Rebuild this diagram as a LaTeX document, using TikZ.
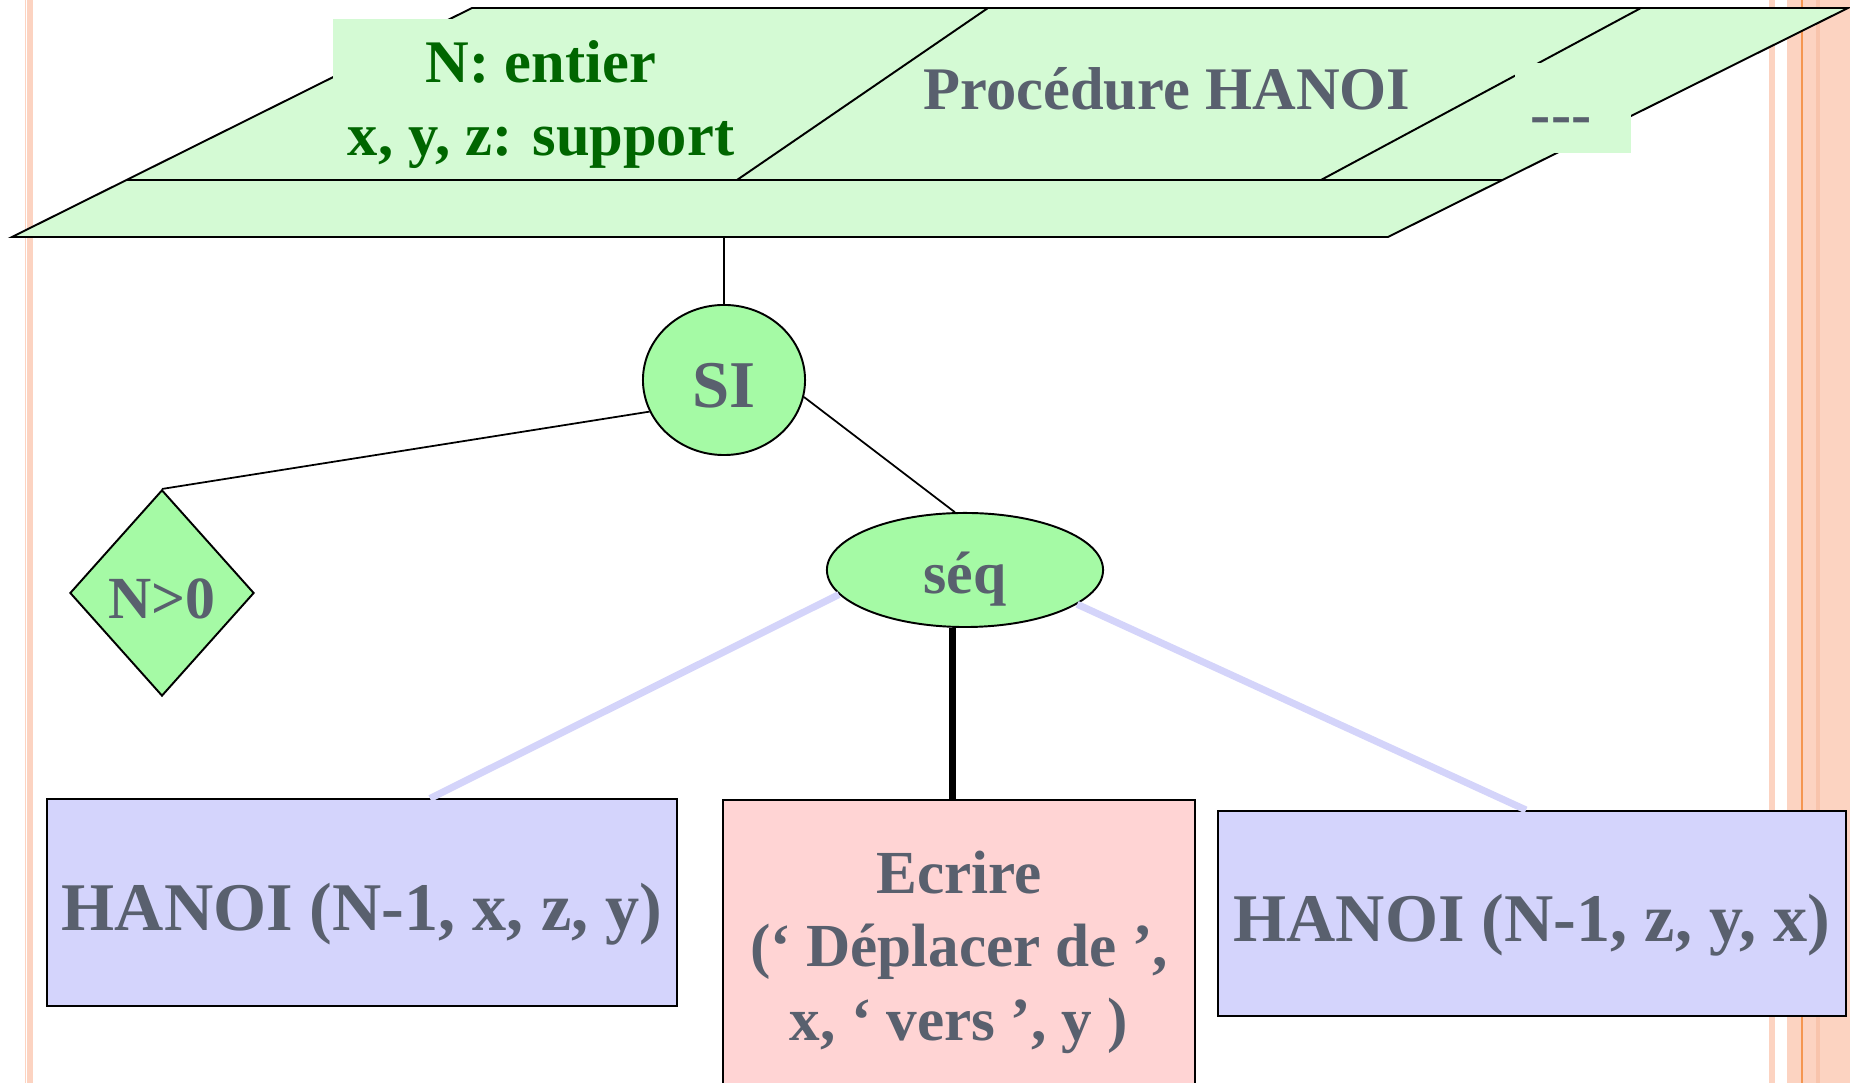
\documentclass[tikz,border=0pt]{standalone}
\usepackage{fontspec}
\setmainfont{Liberation Serif}
\usetikzlibrary{shapes.geometric,calc}
\definecolor{hnPale} {RGB}{212,250,212}
\definecolor{hnMint} {RGB}{165,250,165}
\definecolor{hnLilac}{RGB}{212,212,252}
\definecolor{hnWire} {RGB}{212,212,250}
\definecolor{hnRose} {RGB}{255,212,212}
\definecolor{hnSlate}{RGB}{ 89, 96,110}
\definecolor{hnForest}{RGB}{ 0,102,  0}
\definecolor{hnRim}  {RGB}{252,211,193}
\definecolor{hnRimD} {RGB}{248,196,172}
\definecolor{hnRimO} {RGB}{245,150, 80}

\begin{document}
\begin{tikzpicture}[x=0.01cm,y=-0.01cm,
    every node/.style={font=\bfseries,text=hnSlate,align=center},
    lbl/.style={font=\fontsize{17.2}{20.8}\selectfont\bfseries},
    big/.style={font=\fontsize{19.4}{23}\selectfont\bfseries},
    wire/.style={line width=0.5pt,black},
    lilacwire/.style={line width=2pt,hnWire},
    trunk/.style={line width=2.1pt,black},
    knot/.style={ellipse,draw,line width=0.55pt,fill=hnMint,inner sep=0pt},
    call/.style={rectangle,draw,line width=0.55pt,fill=hnLilac,big,
                 minimum width=6.3cm,minimum height=2.06cm,
                 text height=0.56cm,text depth=0pt}
  ]
  \path[use as bounding box,clip] (0,0) rectangle (1850,1083);
  % page margins
  \fill[hnRim] (24.5,0) rectangle (26.3,1083);
  \fill[hnRim] (27.3,0) rectangle (32.7,1083);
  \fill[hnRim] (1769,0) rectangle (1775,1083);
  \fill[hnRim] (1787,0) rectangle (1850,1083);
  \fill[hnRimD] (1816,0) rectangle (1820,1083);
  \draw[hnRimO,line width=0.3pt] (1802,0) -- (1802,1083);

  % header slab
  \draw[fill=hnPale,line width=0.55pt] (12,237) -- (472,8) -- (1848,8) -- (1388,237) -- cycle;
  \node[lbl,text=hnForest,fill=hnPale,minimum width=4.16cm,minimum height=1.71cm]
    (decl) at (541,104.5) {N: entier\\x, y, z: support};
  \draw[line width=0.55pt] (126.5,180) -- (1502.5,180);
  \draw[line width=0.55pt] (737,180) -- (988,8);
  \draw[line width=0.55pt] (1321,180) -- (1641,8);
  \node[lbl,anchor=base] (proc) at (1167,110) {Procédure HANOI};
  \node[lbl,fill=hnPale,minimum width=1.16cm,minimum height=0.9cm,
        text height=0.52cm,text depth=0pt]
    (more) at (1573,108) {\makebox[0.84cm][l]{\mbox{-}\mbox{-}\mbox{-}}};
  \coordinate (stem) at (724,237);

  % tree
  \node[knot,font=\fontsize{19}{23}\selectfont\bfseries,text height=0.55cm,text depth=0pt,
        minimum width=1.62cm,minimum height=1.5cm] (si) at (724,380) {SI};
  \node[knot,font=\fontsize{17}{20}\selectfont\bfseries,text height=0.46cm,text depth=0pt,
        minimum width=2.76cm,minimum height=1.14cm] (seq) at (965,570) {séq};
  \node[diamond,draw,line width=0.55pt,fill=hnMint,inner sep=0pt,
        font=\fontsize{17}{20}\selectfont\bfseries,text height=0.5cm,text depth=0pt,
        minimum width=1.84cm,minimum height=2.06cm] (cond) at (162,593) {N>0};
  \node[call] (hleft) at (362,902.5) {HANOI (N-1, x, z, y)};
  \node[call,minimum width=6.28cm,minimum height=2.05cm] (hright) at (1532,913.5) {HANOI (N-1, z, y, x)};
  \node[draw,line width=0.55pt,fill=hnRose,font=\fontsize{17.4}{20.9}\selectfont\bfseries,
        minimum width=4.72cm,minimum height=3.04cm]
    (write) at (959,952) {Ecrire\\(‘ Déplacer de ’,\\x, ‘ vers ’, y )};

  \draw[wire] (stem) -- (si.north);
  \draw[wire] (si.203) -- (cond.north);
  \draw[wire] (si.-12) -- (seq.100);
  \draw[lilacwire] (seq.191) -- ([xshift=0.68cm]hleft.north);
  \draw[lilacwire] (seq.-17) -- ([xshift=-0.06cm]hright.north);
  \draw[trunk] (seq.-102) -- (seq.-102 |- write.north);
\end{tikzpicture}
\end{document}
